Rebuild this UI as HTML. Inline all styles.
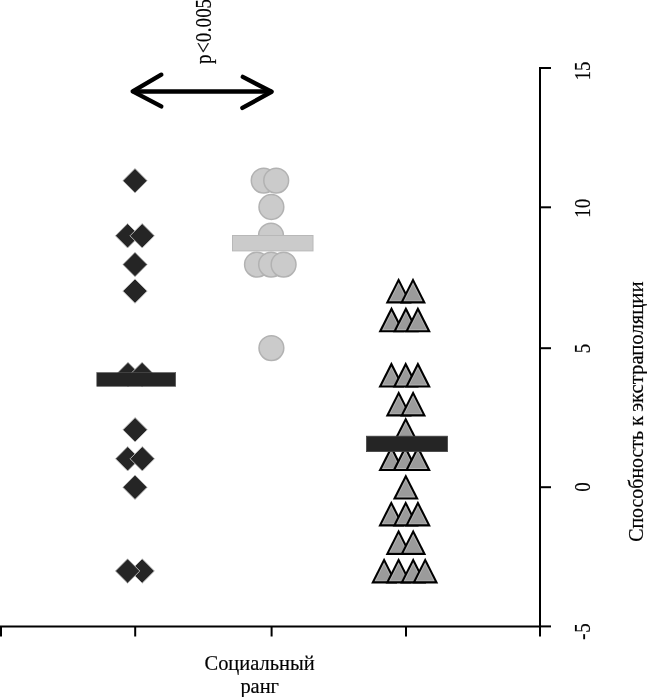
<!DOCTYPE html>
<html><head><meta charset="utf-8"><style>
html,body{margin:0;padding:0;background:#fff;width:647px;height:697px;overflow:hidden;}
svg{display:block;font-family:"Liberation Serif",serif;}
.t{opacity:0.995} .t text{stroke:#000;stroke-width:0.2px}
</style></head><body><svg width="647" height="697" viewBox="0 0 647 697"><path d="M135.00 168.50L147.20 180.70L135.00 192.90L122.80 180.70Z" fill="#252525" stroke="#c4c4c4" stroke-width="0.9"/><path d="M127.60 223.60L139.80 235.80L127.60 248.00L115.40 235.80Z" fill="#252525" stroke="#c4c4c4" stroke-width="0.9"/><path d="M142.20 223.60L154.40 235.80L142.20 248.00L130.00 235.80Z" fill="#252525" stroke="#c4c4c4" stroke-width="0.9"/><path d="M135.00 252.30L147.20 264.50L135.00 276.70L122.80 264.50Z" fill="#252525" stroke="#c4c4c4" stroke-width="0.9"/><path d="M135.00 278.90L147.20 291.10L135.00 303.30L122.80 291.10Z" fill="#252525" stroke="#c4c4c4" stroke-width="0.9"/><path d="M128.00 362.30L140.20 374.50L128.00 386.70L115.80 374.50Z" fill="#252525" stroke="#c4c4c4" stroke-width="0.9"/><path d="M142.10 362.30L154.30 374.50L142.10 386.70L129.90 374.50Z" fill="#252525" stroke="#c4c4c4" stroke-width="0.9"/><path d="M135.10 417.60L147.30 429.80L135.10 442.00L122.90 429.80Z" fill="#252525" stroke="#c4c4c4" stroke-width="0.9"/><path d="M127.70 446.60L139.90 458.80L127.70 471.00L115.50 458.80Z" fill="#252525" stroke="#c4c4c4" stroke-width="0.9"/><path d="M142.30 446.60L154.50 458.80L142.30 471.00L130.10 458.80Z" fill="#252525" stroke="#c4c4c4" stroke-width="0.9"/><path d="M135.00 475.10L147.20 487.30L135.00 499.50L122.80 487.30Z" fill="#252525" stroke="#c4c4c4" stroke-width="0.9"/><path d="M142.20 558.80L154.40 571.00L142.20 583.20L130.00 571.00Z" fill="#252525" stroke="#c4c4c4" stroke-width="0.9"/><path d="M127.60 558.80L139.80 571.00L127.60 583.20L115.40 571.00Z" fill="#252525" stroke="#c4c4c4" stroke-width="0.9"/><rect x="96.8" y="372.6" width="78.9" height="13.7" fill="#252525" stroke="#555" stroke-width="0.6"/><circle cx="263.70" cy="180.60" r="12.4" fill="#cbcbcb" stroke="#b2b2b2" stroke-width="1.5"/><circle cx="276.20" cy="180.60" r="12.4" fill="#cbcbcb" stroke="#b2b2b2" stroke-width="1.5"/><circle cx="271.40" cy="207.00" r="12.4" fill="#cbcbcb" stroke="#b2b2b2" stroke-width="1.5"/><circle cx="271.00" cy="235.60" r="12.4" fill="#cbcbcb" stroke="#b2b2b2" stroke-width="1.5"/><circle cx="257.00" cy="264.60" r="12.4" fill="#cbcbcb" stroke="#b2b2b2" stroke-width="1.5"/><circle cx="271.10" cy="264.60" r="12.4" fill="#cbcbcb" stroke="#b2b2b2" stroke-width="1.5"/><circle cx="283.60" cy="264.60" r="12.4" fill="#cbcbcb" stroke="#b2b2b2" stroke-width="1.5"/><circle cx="271.40" cy="348.10" r="12.4" fill="#cbcbcb" stroke="#b2b2b2" stroke-width="1.5"/><rect x="232.5" y="235.5" width="80.5" height="15.4" fill="#cbcbcb" stroke="#b8b8b8" stroke-width="1"/><path d="M398.60 277.70L411.60 303.40L385.60 303.40Z" fill="#000"/><path d="M398.60 282.35L408.18 301.30L389.02 301.30Z" fill="#b4b4b4"/><path d="M398.60 284.35L406.72 300.40L390.48 300.40Z" fill="#9b9b9b"/><path d="M413.00 277.70L426.00 303.40L400.00 303.40Z" fill="#000"/><path d="M413.00 282.35L422.58 301.30L403.42 301.30Z" fill="#b4b4b4"/><path d="M413.00 284.35L421.12 300.40L404.88 300.40Z" fill="#9b9b9b"/><path d="M391.50 306.60L404.50 332.30L378.50 332.30Z" fill="#000"/><path d="M391.50 311.25L401.08 330.20L381.92 330.20Z" fill="#b4b4b4"/><path d="M391.50 313.25L399.62 329.30L383.38 329.30Z" fill="#9b9b9b"/><path d="M405.90 306.60L418.90 332.30L392.90 332.30Z" fill="#000"/><path d="M405.90 311.25L415.48 330.20L396.32 330.20Z" fill="#b4b4b4"/><path d="M405.90 313.25L414.02 329.30L397.78 329.30Z" fill="#9b9b9b"/><path d="M417.90 306.60L430.90 332.30L404.90 332.30Z" fill="#000"/><path d="M417.90 311.25L427.48 330.20L408.32 330.20Z" fill="#b4b4b4"/><path d="M417.90 313.25L426.02 329.30L409.78 329.30Z" fill="#9b9b9b"/><path d="M391.40 361.80L404.40 387.50L378.40 387.50Z" fill="#000"/><path d="M391.40 366.45L400.98 385.40L381.82 385.40Z" fill="#b4b4b4"/><path d="M391.40 368.45L399.52 384.50L383.28 384.50Z" fill="#9b9b9b"/><path d="M405.70 361.80L418.70 387.50L392.70 387.50Z" fill="#000"/><path d="M405.70 366.45L415.28 385.40L396.12 385.40Z" fill="#b4b4b4"/><path d="M405.70 368.45L413.82 384.50L397.58 384.50Z" fill="#9b9b9b"/><path d="M417.90 361.80L430.90 387.50L404.90 387.50Z" fill="#000"/><path d="M417.90 366.45L427.48 385.40L408.32 385.40Z" fill="#b4b4b4"/><path d="M417.90 368.45L426.02 384.50L409.78 384.50Z" fill="#9b9b9b"/><path d="M398.70 390.70L411.70 416.40L385.70 416.40Z" fill="#000"/><path d="M398.70 395.35L408.28 414.30L389.12 414.30Z" fill="#b4b4b4"/><path d="M398.70 397.35L406.82 413.40L390.58 413.40Z" fill="#9b9b9b"/><path d="M413.10 390.70L426.10 416.40L400.10 416.40Z" fill="#000"/><path d="M413.10 395.35L422.68 414.30L403.52 414.30Z" fill="#b4b4b4"/><path d="M413.10 397.35L421.22 413.40L404.98 413.40Z" fill="#9b9b9b"/><path d="M405.70 416.90L418.70 442.60L392.70 442.60Z" fill="#000"/><path d="M405.70 421.55L415.28 440.50L396.12 440.50Z" fill="#b4b4b4"/><path d="M405.70 423.55L413.82 439.60L397.58 439.60Z" fill="#9b9b9b"/><path d="M391.40 445.30L404.40 471.00L378.40 471.00Z" fill="#000"/><path d="M391.40 449.95L400.98 468.90L381.82 468.90Z" fill="#b4b4b4"/><path d="M391.40 451.95L399.52 468.00L383.28 468.00Z" fill="#9b9b9b"/><path d="M405.30 445.30L418.30 471.00L392.30 471.00Z" fill="#000"/><path d="M405.30 449.95L414.88 468.90L395.72 468.90Z" fill="#b4b4b4"/><path d="M405.30 451.95L413.42 468.00L397.18 468.00Z" fill="#9b9b9b"/><path d="M417.90 445.30L430.90 471.00L404.90 471.00Z" fill="#000"/><path d="M417.90 449.95L427.48 468.90L408.32 468.90Z" fill="#b4b4b4"/><path d="M417.90 451.95L426.02 468.00L409.78 468.00Z" fill="#9b9b9b"/><path d="M405.80 473.90L418.80 499.60L392.80 499.60Z" fill="#000"/><path d="M405.80 478.55L415.38 497.50L396.22 497.50Z" fill="#b4b4b4"/><path d="M405.80 480.55L413.92 496.60L397.68 496.60Z" fill="#9b9b9b"/><path d="M391.30 500.70L404.30 526.40L378.30 526.40Z" fill="#000"/><path d="M391.30 505.35L400.88 524.30L381.72 524.30Z" fill="#b4b4b4"/><path d="M391.30 507.35L399.42 523.40L383.18 523.40Z" fill="#9b9b9b"/><path d="M405.70 500.70L418.70 526.40L392.70 526.40Z" fill="#000"/><path d="M405.70 505.35L415.28 524.30L396.12 524.30Z" fill="#b4b4b4"/><path d="M405.70 507.35L413.82 523.40L397.58 523.40Z" fill="#9b9b9b"/><path d="M417.90 500.70L430.90 526.40L404.90 526.40Z" fill="#000"/><path d="M417.90 505.35L427.48 524.30L408.32 524.30Z" fill="#b4b4b4"/><path d="M417.90 507.35L426.02 523.40L409.78 523.40Z" fill="#9b9b9b"/><path d="M398.60 529.20L411.60 554.90L385.60 554.90Z" fill="#000"/><path d="M398.60 533.85L408.18 552.80L389.02 552.80Z" fill="#b4b4b4"/><path d="M398.60 535.85L406.72 551.90L390.48 551.90Z" fill="#9b9b9b"/><path d="M413.20 529.20L426.20 554.90L400.20 554.90Z" fill="#000"/><path d="M413.20 533.85L422.78 552.80L403.62 552.80Z" fill="#b4b4b4"/><path d="M413.20 535.85L421.32 551.90L405.08 551.90Z" fill="#9b9b9b"/><path d="M384.10 557.70L397.10 583.40L371.10 583.40Z" fill="#000"/><path d="M384.10 562.35L393.68 581.30L374.52 581.30Z" fill="#b4b4b4"/><path d="M384.10 564.35L392.22 580.40L375.98 580.40Z" fill="#9b9b9b"/><path d="M398.60 557.70L411.60 583.40L385.60 583.40Z" fill="#000"/><path d="M398.60 562.35L408.18 581.30L389.02 581.30Z" fill="#b4b4b4"/><path d="M398.60 564.35L406.72 580.40L390.48 580.40Z" fill="#9b9b9b"/><path d="M413.20 557.70L426.20 583.40L400.20 583.40Z" fill="#000"/><path d="M413.20 562.35L422.78 581.30L403.62 581.30Z" fill="#b4b4b4"/><path d="M413.20 564.35L421.32 580.40L405.08 580.40Z" fill="#9b9b9b"/><path d="M425.20 557.70L438.20 583.40L412.20 583.40Z" fill="#000"/><path d="M425.20 562.35L434.78 581.30L415.62 581.30Z" fill="#b4b4b4"/><path d="M425.20 564.35L433.32 580.40L417.08 580.40Z" fill="#9b9b9b"/><rect x="366.5" y="436.2" width="81" height="15.4" fill="#252525" stroke="#444" stroke-width="0.8"/><path d="M551 68.1H540V636.5" stroke="#000" stroke-width="2" fill="none"/><path d="M540 207.3H551" stroke="#000" stroke-width="2" fill="none"/><path d="M540 348.2H551" stroke="#000" stroke-width="2" fill="none"/><path d="M540 487.2H551" stroke="#000" stroke-width="2" fill="none"/><path d="M540 626.4H551" stroke="#000" stroke-width="2" fill="none"/><path d="M1 636.5V626.4H540" stroke="#000" stroke-width="2" fill="none"/><path d="M135.2 626.4V636.5" stroke="#000" stroke-width="2" fill="none"/><path d="M271.6 626.4V636.5" stroke="#000" stroke-width="2" fill="none"/><path d="M406 626.4V636.5" stroke="#000" stroke-width="2" fill="none"/><g stroke="#000" stroke-width="4.4" fill="none" stroke-linecap="round" stroke-linejoin="round"><path d="M134 91.5H270.5"/><path d="M161.3 74.7L132.7 91.4L161.3 106.4"/><path d="M242.8 76.9L271.6 91.8L242.4 107.9"/></g><g class="t"><g font-family="Liberation Serif" font-size="24" fill="#000"><text transform="translate(589.7 71.12) rotate(-90) scale(0.78 1)">5</text><text transform="translate(589.7 80.31) rotate(-90) scale(0.78 1)">1</text><text transform="translate(589.7 208.23) rotate(-90) scale(0.78 1)">0</text><text transform="translate(589.7 217.71) rotate(-90) scale(0.78 1)">1</text><text transform="translate(589.7 353.27) rotate(-90) scale(0.78 1)">5</text><text transform="translate(589.7 491.73) rotate(-90) scale(0.78 1)">0</text><text transform="translate(589.7 632.77) rotate(-90) scale(0.78 1)">5</text><text transform="translate(589.7 639.83) rotate(-90) scale(0.78 1)">-</text></g><g font-family="Liberation Serif" font-size="24" fill="#000"><text transform="translate(211.4 64.04) rotate(-90) scale(0.78 1)">p</text><text transform="translate(211.4 53.04) rotate(-90) scale(0.78 1)">&lt;</text><text transform="translate(211.4 42.18) rotate(-90) scale(0.78 1)">0</text><text transform="translate(211.4 32.24) rotate(-90) scale(0.78 1)">.</text><text transform="translate(211.4 27.53) rotate(-90) scale(0.78 1)">0</text><text transform="translate(211.4 17.78) rotate(-90) scale(0.78 1)">0</text><text transform="translate(211.4 8.47) rotate(-90) scale(0.78 1)">5</text></g><g font-family="Liberation Serif" font-size="22"><text transform="translate(643.3 541.8) rotate(-90) scale(0.904 1)">Способность</text><text transform="translate(643.3 425.8) rotate(-90) scale(0.92 1)">к</text><text transform="translate(643.3 411.8) rotate(-90) scale(0.94 1)">экстраполяции</text></g><g font-family="Liberation Serif" font-size="22" text-anchor="middle"><text transform="translate(259.6 669.7) scale(0.93 1)">Социальный</text><text transform="translate(259.7 692.7) scale(0.93 1)">ранг</text></g></g></svg></body></html>
